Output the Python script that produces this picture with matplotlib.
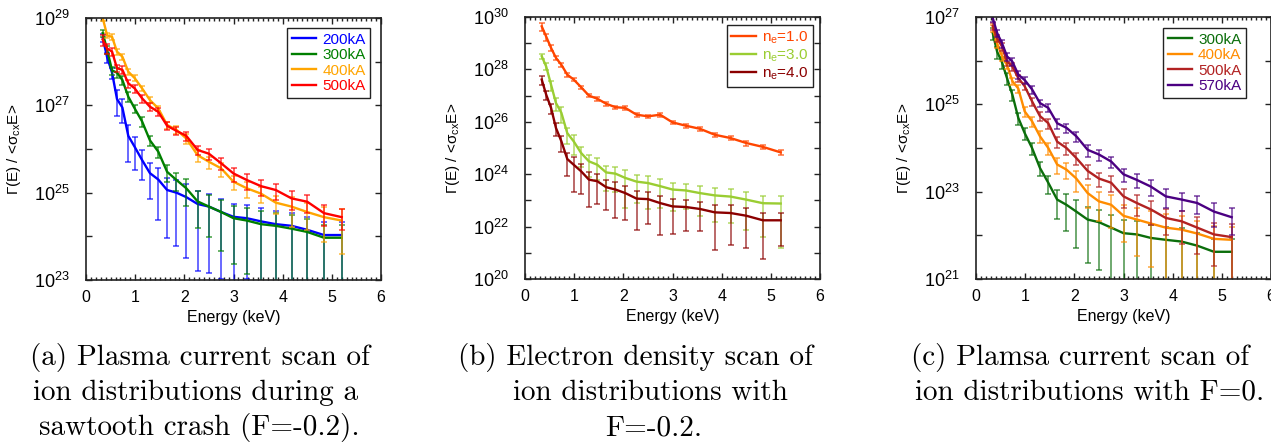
import numpy as np
import matplotlib
matplotlib.use("Agg")
import matplotlib.pyplot as plt
from matplotlib.ticker import FixedLocator, MultipleLocator, NullLocator, FuncFormatter

plt.rcParams["font.family"] = "Liberation Sans"
plt.rcParams["mathtext.fontset"] = "custom"
plt.rcParams["mathtext.rm"] = "Liberation Sans"
plt.rcParams["mathtext.it"] = "Liberation Sans:italic"
plt.rcParams["mathtext.bf"] = "Liberation Sans:bold"

# energy bins (keV), shared by all scans
energy = [0.34, 0.43, 0.53, 0.63, 0.74, 0.86, 0.99, 1.14, 1.30, 1.47, 1.65, 1.84,
          2.04, 2.27, 2.50, 2.75, 3.00, 3.27, 3.56, 3.86, 4.18, 4.50, 4.84, 5.20]

# (a) plasma current scan, sawtooth crash, F=-0.2
flux_a_200 = [3.5e28, 1.26e28, 5.6e27, 1.4e27, 8.9e26, 2.0e26, 1.12e26, 5.6e25, 2.8e25, 2.0e25, 1.15e25, 1.0e25,
              7.9e24, 5.5e24, 4.8e24, 3.6e24, 2.8e24, 2.6e24, 2.2e24, 1.9e24, 1.74e24, 1.41e24, 1.07e24, 1.07e24]
rel_a_200 = [0.2, 0.25, 0.3, 0.6, 0.55, 0.75, 0.7, 0.65, 0.75, 0.88, 0.92, 0.94,
             0.96, 0.97, 0.97, 0.97, 0.99, 0.96, 1.0, 1.0, 1.0, 1.0, 1.0, 1.0]
flux_a_300 = [4.5e28, 1.86e28, 6.3e27, 5.6e27, 3.8e27, 1.58e27, 8.5e26, 4.3e26, 1.58e26, 8.7e25, 3.0e25, 1.95e25,
              1.26e25, 6.3e24, 4.8e24, 3.6e24, 2.6e24, 2.3e24, 1.9e24, 1.74e24, 1.5e24, 1.26e24, 9.3e23, 9.3e23]
rel_a_300 = [0.2, 0.2, 0.2, 0.25, 0.25, 0.25, 0.2, 0.25, 0.25, 0.3, 0.4, 0.45,
             0.6, 0.76, 0.8, 0.87, 0.91, 0.94, 1.0, 1.0, 1.0, 1.0, 1.0, 1.0]
flux_a_400 = [1.0e29, 4.0e28, 3.7e28, 1.7e28, 1.3e28, 5.9e27, 4.2e27, 2.45e27, 1.32e27, 8.5e26, 3.55e26, 2.75e26,
              1.74e26, 7.2e25, 5.1e25, 3.6e25, 1.78e25, 1.26e25, 9.5e24, 5.9e24, 4.8e24, 3.6e24, 2.75e24, 2.3e24]
rel_a_400 = [0.15, 0.15, 0.15, 0.15, 0.15, 0.15, 0.15, 0.15, 0.15, 0.15, 0.2, 0.2,
             0.25, 0.3, 0.3, 0.35, 0.35, 0.4, 0.4, 0.45, 0.66, 0.61, 0.73, 0.83]
flux_a_500 = [3.2e28, 2.0e28, 1.7e28, 7.1e27, 6.5e27, 3.2e27, 2.45e27, 1.45e27, 9.3e26, 7.1e26, 3.4e26, 2.6e26,
              2.0e26, 9.5e25, 7.8e25, 4.7e25, 2.75e25, 1.95e25, 1.41e25, 1.15e25, 7.4e24, 6.2e24, 3.4e24, 2.75e24]
rel_a_500 = [0.3, 0.25, 0.2, 0.2, 0.2, 0.2, 0.2, 0.2, 0.2, 0.2, 0.2, 0.2,
             0.25, 0.25, 0.3, 0.3, 0.35, 0.4, 0.4, 0.4, 0.45, 0.45, 0.5, 0.5]

# (b) electron density scan, F=-0.2
flux_b_1 = [4.4e29, 1.8e29, 6.6e28, 2.75e28, 1.5e28, 6.3e27, 4.1e27, 2.1e27, 1.0e27, 7.6e26, 4.9e26, 3.6e26,
            3.4e26, 1.86e26, 1.62e26, 1.86e26, 9.5e25, 7.1e25, 5.4e25, 3.2e25, 2.4e25, 1.55e25, 1.1e25, 6.8e24]
rel_b_1 = [0.35, 0.3, 0.25, 0.2, 0.2, 0.15, 0.15, 0.15, 0.15, 0.15, 0.15, 0.15,
           0.15, 0.15, 0.15, 0.15, 0.15, 0.15, 0.15, 0.15, 0.15, 0.2, 0.2, 0.2]
flux_b_3 = [3.2e28, 1.3e28, 2.6e27, 5.2e26, 2.2e26, 3.7e25, 1.8e25, 6.5e24, 3.1e24, 2.3e24, 1.17e24, 1.05e24,
            7.2e23, 5.2e23, 4.6e23, 3.5e23, 2.6e23, 2.4e23, 1.9e23, 1.55e23, 1.4e23, 1.07e23, 7.8e22, 7.6e22]
rel_b_3 = [0.25, 0.3, 0.4, 0.5, 0.6, 0.6, 0.7, 0.7, 0.75, 0.75, 0.8, 0.8,
           0.93, 0.85, 0.9, 0.85, 0.85, 0.8, 0.87, 0.9, 0.9, 0.93, 0.95, 0.98]
flux_b_4 = [4.1e27, 1.1e27, 3.4e26, 5.8e25, 1.8e25, 3.8e24, 2.3e24, 1.3e24, 6.2e23, 5.4e23, 3.2e23, 2.6e23,
            1.9e23, 1.17e23, 1.12e23, 7.9e22, 5.9e22, 5.6e22, 4.7e22, 3.5e22, 3.3e22, 2.6e22, 1.74e22, 1.74e22]
rel_b_4 = [0.4, 0.4, 0.4, 0.5, 0.6, 0.77, 0.91, 0.86, 0.91, 0.86, 0.86, 0.92,
           0.91, 0.935, 0.89, 0.94, 0.91, 0.88, 0.86, 0.965, 0.94, 0.94, 0.967, 0.9]

# (c) plasma current scan, F=0.2
flux_c_300 = [4.3e26, 1.6e26, 9.1e25, 4.0e25, 1.66e25, 4.9e24, 2.2e24, 1.0e24, 3.5e23, 1.6e23, 6.6e22, 5.0e22,
              3.5e22, 2.3e22, 2.0e22, 1.5e22, 1.12e22, 1.05e22, 8.7e21, 7.9e21, 7.2e21, 5.8e21, 4.2e21, 4.2e21]
rel_c_300 = [0.3, 0.3, 0.3, 0.3, 0.3, 0.3, 0.3, 0.3, 0.35, 0.45, 0.65, 0.75,
             0.85, 0.9, 0.92, 0.96, 1.0, 1.0, 1.0, 1.0, 1.0, 1.0, 1.0, 1.0]
flux_c_400 = [5.6e26, 2.5e26, 1.26e26, 7.9e25, 3.4e25, 2.3e25, 6.9e24, 4.1e24, 1.86e24, 1.0e24, 4.2e23, 3.2e23,
              2.0e23, 9.3e22, 6.0e22, 5.0e22, 2.8e22, 2.3e22, 1.86e22, 1.5e22, 1.35e22, 1.1e22, 8.3e21, 7.9e21]
rel_c_400 = [0.2, 0.2, 0.2, 0.2, 0.2, 0.2, 0.25, 0.25, 0.3, 0.3, 0.4, 0.4,
             0.5, 0.55, 0.65, 0.7, 0.75, 0.85, 0.9, 1.0, 1.0, 0.95, 1.0, 1.0]
flux_c_500 = [6.2e26, 3.3e26, 2.1e26, 9.5e25, 7.4e25, 4.0e25, 2.6e25, 1.17e25, 5.4e24, 3.7e24, 1.4e24, 1.0e24,
              5.9e23, 3.0e23, 2.0e23, 1.6e23, 7.8e22, 5.5e22, 3.9e22, 2.5e22, 2.1e22, 1.5e22, 1.05e22, 9.1e21]
rel_c_500 = [0.2, 0.2, 0.2, 0.2, 0.2, 0.2, 0.2, 0.2, 0.25, 0.25, 0.3, 0.3,
             0.3, 0.35, 0.35, 0.4, 0.45, 0.5, 0.55, 0.6, 0.7, 0.75, 0.81, 1.0]
flux_c_570 = [9.5e26, 4.3e26, 2.5e26, 1.26e26, 9.5e25, 4.8e25, 3.6e25, 2.2e25, 1.07e25, 8.3e24, 3.7e24, 2.9e24,
              1.86e24, 9.1e23, 7.1e23, 4.9e23, 2.5e23, 1.86e23, 1.3e23, 7.8e22, 6.6e22, 5.5e22, 3.5e22, 2.6e22]
rel_c_570 = [0.2, 0.2, 0.2, 0.2, 0.2, 0.2, 0.2, 0.2, 0.2, 0.2, 0.25, 0.25,
             0.25, 0.3, 0.3, 0.3, 0.35, 0.35, 0.4, 0.45, 0.45, 0.45, 0.55, 0.6]

labels_a = ["200kA", "300kA", "400kA", "500kA"]
colors_a = ["#0000ff", "#007f00", "#ffa500", "#ff0000"]
labels_b = [r"n$_\mathrm{e}$=1.0", r"n$_\mathrm{e}$=3.0", r"n$_\mathrm{e}$=4.0"]
colors_b = ["#ff4500", "#9acd32", "#8b0000"]
labels_c = ["300kA", "400kA", "500kA", "570kA"]
colors_c = ["#0b6e0b", "#ff8c00", "#b22222", "#4b0082"]

captions = [
    ["(a) Plasma current scan of", "ion distributions during a", "sawtooth crash (F=-0.2)."],
    ["(b) Electron density scan of", "ion distributions with", "F=-0.2."],
    ["(c) Plamsa current scan of", "ion distributions with F=0."],
]
caption_x = [[200, 196, 199], [636, 650, 654], [1080, 1090]]
caption_y = [365, 400, 435]

W, H = 1271, 446
fig = plt.figure(figsize=(W / 100, H / 100), dpi=100)


def panel(left_px, top_px, fluxes, rels, colors, labels, ylo, yhi, ystep, leg_anchor):
    ax = fig.add_axes([left_px / W, (H - top_px - 262) / H, 295 / W, 262 / H])
    lines = []
    for f, r, c, lab in zip(fluxes, rels, colors, labels):
        f = np.array(f)
        err = f * np.array(r)
        ax.errorbar(energy, f, yerr=err, fmt="none", ecolor=c, elinewidth=1.1,
                    capsize=2.5, capthick=1.1, alpha=0.75)
        ln, = ax.plot(energy, f, color=c, lw=1.7, label=lab)
        lines.append(ln)
    ax.set_yscale("log")
    ax.set_xlim(0, 6)
    ax.set_ylim(10.0 ** ylo, 10.0 ** yhi)
    ax.yaxis.set_major_locator(FixedLocator([10.0 ** k for k in range(ylo, yhi + 1)]))
    ax.yaxis.set_minor_locator(NullLocator())
    ax.yaxis.set_major_formatter(FuncFormatter(
        lambda v, p: r"$10^{%d}$" % round(np.log10(v)) if (round(np.log10(v)) - ylo) % ystep == 0 else ""))
    ax.xaxis.set_major_locator(MultipleLocator(1))
    ax.xaxis.set_minor_locator(MultipleLocator(0.1))
    ax.tick_params(which="both", direction="in", top=True, right=True, width=1.0, color="#222222")
    ax.tick_params(which="major", length=4.5)
    ax.tick_params(which="minor", length=2.2)
    ax.tick_params(axis="y", labelsize=13, pad=12)
    ax.tick_params(axis="x", labelsize=11.5, pad=7)
    for s in ax.spines.values():
        s.set_linewidth(1.2)
        s.set_color("#222222")
    ax.set_xlabel("Energy (keV)", fontsize=11.5, labelpad=4)
    ax.set_ylabel(r"Γ(E) / <σ$_\mathrm{cx}$E>", fontsize=11)
    ax.yaxis.set_label_coords(-0.213, 0.5)
    leg = ax.legend(handles=lines, loc="upper right", bbox_to_anchor=leg_anchor, fontsize=11,
                    frameon=True, fancybox=False, edgecolor="#222222", framealpha=1,
                    handlelength=1.6, handletextpad=0.4, labelspacing=0.1,
                    borderpad=0.3, borderaxespad=0)
    leg.get_frame().set_linewidth(1.0)
    for t, c in zip(leg.get_texts(), colors):
        t.set_color(c)
    return ax


panel(86, 18, [flux_a_200, flux_a_300, flux_a_400, flux_a_500],
      [rel_a_200, rel_a_300, rel_a_400, rel_a_500], colors_a, labels_a, 23, 29, 2, (0.963, 0.962))
panel(525, 17, [flux_b_1, flux_b_3, flux_b_4],
      [rel_b_1, rel_b_3, rel_b_4], colors_b, labels_b, 20, 30, 2, (0.976, 0.969))
panel(976, 17, [flux_c_300, flux_c_400, flux_c_500, flux_c_570],
      [rel_c_300, rel_c_400, rel_c_500, rel_c_570], colors_c, labels_c, 21, 27, 2, (0.915, 0.958))

for lines_, xs in zip(captions, caption_x):
    for txt, x, y in zip(lines_, xs, caption_y):
        fig.text(x / W, (H - y) / H, txt, ha="center", va="baseline",
                 fontsize=21, family="cmr10")

fig.savefig("out.png", dpi=100)
